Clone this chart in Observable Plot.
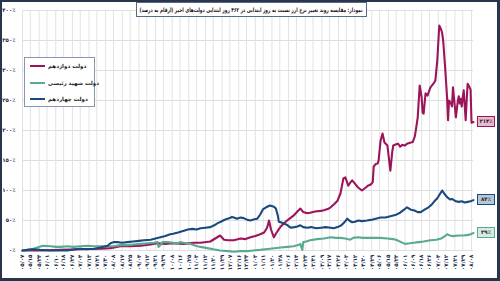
<!DOCTYPE html>
<html>
<head>
<meta charset="utf-8">
<script src="https://cdn.jsdelivr.net/npm/d3@7"></script>
<script src="https://cdn.jsdelivr.net/npm/@observablehq/plot@0.6"></script>
<style>
  html, body { margin: 0; padding: 0; background: #fff; }
  #wrap { position: relative; width: 500px; height: 281px; overflow: hidden; font-family: "DejaVu Sans", sans-serif; background: #fff; }
  #wrap svg { position: absolute; left: 0; top: 0; }
  #edge { position: absolute; left: 0; top: 0; width: 500px; height: 281px; box-sizing: border-box;
          border: 2px solid #27364c; border-bottom-width: 3px; border-right-width: 3px; pointer-events: none; }
  #title { position: absolute; left: 136px; top: 2px; width: 231px; height: 15px; box-sizing: border-box;
           border: 1px solid #566a86; background: #fff; overflow: hidden; }
  #title span { position: absolute; right: 3px; top: 0; font-size: 6px; font-weight: bold; line-height: 13px;
                direction: rtl; white-space: nowrap; color: #111; transform-origin: right center; }
  #legend { position: absolute; left: 24px; top: 57px; width: 71px; height: 50px; box-sizing: border-box;
            border: 1px solid #8797ad; background: #fff; }
  .item { position: absolute; left: 5px; height: 10px; width: 64px; }
  .item .sw { position: absolute; left: 0; top: 4px; width: 15px; height: 2px; }
  .item .tx { position: absolute; left: 18px; top: 0; font-size: 5.5px; font-weight: bold; line-height: 10px;
              direction: rtl; white-space: nowrap; color: #222; }
  .tag { position: absolute; left: 477px; width: 18px; height: 11px; box-sizing: border-box; border: 1px solid;
         font-size: 5.4px; font-weight: bold; line-height: 9px; text-align: center; color: #222; }
</style>
</head>
<body>
<div id="wrap"></div>
<script>
// Exchange-rate change versus day one, over the first 462 days of each government (percent)
const seriesNames = ["دولت دوازدهم", "دولت شهید رئیسی", "دولت چهاردهم"];
const seriesColors = ["#9c155b", "#5aa991", "#184b7c"];
const tagFills = ["#e7b9cf", "#d3ebe3", "#b7c7d9"];

// [day, percent]
const dolat12 = [[0,0],[18,0],[39,1],[59,2],[80,3],[90,4],[100,7],[110,7],[121,8],[131,10],[138,12],[146,11],[154,12],[165,11],[175,13],[182,13],[192,15],[197,20],[202,25],[206,18],[210,17],[216,17],[223,20],[228,19],[233,22],[238,24],[243,27],[247,30],[250,38],[252,50],[254,35],[257,22],[259,28],[261,33],[264,40],[267,45],[272,52],[277,58],[281,65],[284,70],[287,64],[291,62],[294,63],[299,65],[305,66],[308,67],[312,69],[315,72],[319,78],[322,83],[325,95],[328,120],[330,122],[333,108],[335,113],[337,117],[340,111],[343,105],[347,100],[351,105],[353,108],[356,110],[358,114],[359,140],[361,144],[363,145],[364,150],[366,183],[368,195],[370,180],[373,175],[376,133],[378,165],[379,175],[382,177],[384,178],[386,173],[388,176],[391,175],[393,178],[397,180],[399,181],[401,190],[402,200],[404,222],[406,275],[408,255],[409,230],[410,228],[411,245],[412,262],[414,258],[417,272],[420,278],[422,283],[424,317],[426,375],[428,368],[429,362],[430,350],[432,305],[434,255],[435,217],[436,250],[438,245],[439,240],[440,272],[443,222],[445,250],[446,257],[447,245],[448,253],[449,240],[450,255],[451,267],[453,217],[454,250],[455,278],[457,272],[458,268],[459,213],[461,214]];

const raisi = [[0,0],[5,1],[11,3],[15,5],[21,8],[29,7],[34,6],[39,6],[46,7],[52,6],[59,7],[66,8],[73,7],[80,7],[87,7],[93,7],[100,9],[107,9],[113,10],[121,11],[128,12],[134,13],[138,14],[139,6],[141,9],[143,14],[148,14],[154,13],[158,11],[161,14],[167,12],[172,11],[177,8],[182,6],[189,4],[195,2],[202,0],[210,-1],[216,-2],[223,-1],[230,-1],[236,0],[243,1],[253,3],[264,5],[271,6],[277,7],[282,9],[284,11],[286,1],[287,14],[290,15],[294,17],[301,19],[308,20],[315,22],[320,21],[325,21],[330,20],[335,18],[338,21],[343,22],[348,21],[353,21],[359,21],[366,21],[373,20],[379,19],[383,17],[387,14],[391,11],[396,12],[400,13],[405,14],[410,15],[417,17],[423,18],[428,20],[431,23],[434,27],[437,25],[440,24],[446,25],[451,25],[456,26],[461,29]];

const dolat14 = [[0,0],[5,1],[11,2],[18,1],[29,0],[39,0],[46,0],[54,2],[59,3],[66,2],[73,3],[80,5],[87,8],[90,12],[93,14],[97,14],[102,13],[107,14],[113,15],[119,16],[124,17],[131,18],[136,20],[141,22],[146,24],[151,27],[154,28],[159,30],[165,33],[169,35],[174,36],[178,35],[182,37],[187,38],[192,39],[196,42],[200,46],[203,48],[205,50],[208,52],[212,54],[214,56],[216,55],[219,53],[223,55],[226,54],[230,51],[233,50],[237,52],[240,53],[243,60],[246,69],[249,72],[253,75],[257,73],[259,70],[261,58],[262,48],[264,47],[267,45],[270,43],[274,38],[278,39],[281,40],[284,42],[287,39],[291,38],[295,39],[300,37],[305,38],[310,39],[315,38],[318,37],[322,39],[326,42],[329,47],[332,53],[334,50],[337,47],[340,48],[343,50],[347,49],[352,50],[356,51],[361,53],[366,55],[371,55],[376,57],[381,59],[386,63],[390,68],[393,72],[397,68],[400,67],[404,64],[407,64],[411,68],[415,72],[418,76],[421,82],[424,87],[427,95],[429,100],[431,95],[434,89],[437,85],[439,86],[443,82],[446,81],[449,82],[452,80],[455,81],[458,82],[461,84]];

const allSeries = [dolat12, raisi, dolat14];

// Axis ticks: percent levels, and dated category labels along the day axis
const yTicks = [0, 50, 100, 150, 200, 250, 300, 350, 400];
const xTickDays = [0,8,17,25,34,42,51,59,68,76,85,93,102,110,119,127,136,144,153,161,170,178,187,195,204,212,221,229,238,246,255,263,272,280,289,297,306,314,323,331,340,348,357,365,374,382,391,399,408,416,425,433,442,450,459];
const xTickLabels = ["05/07","05/15","05/24","06/01","06/10","06/18","06/27","07/04","07/13","07/21","07/30","08/08","08/17","08/25","09/04","09/12","09/21","09/29","10/08","10/16","10/25","11/03","11/12","11/20","11/29","12/07","12/16","12/24","01/03","01/11","01/20","01/28","02/06","02/14","02/23","02/31","03/09","03/17","03/26","04/03","04/12","04/20","04/29","05/06","05/15","05/23","06/01","06/09","06/18","06/26","07/04","07/12","07/21","07/29","08/08"];

const titleText = "نمودار: مقایسه روند تغییر نرخ ارز نسبت به روز ابتدایی در ۴۶۲ روز ابتدایی دولت‌های اخیر (ارقام به درصد)";

const fa = s => String(s).replace(/\d/g, d => "۰۱۲۳۴۵۶۷۸۹"[d]);
const labelOf = new Map(xTickDays.map((d, i) => [d, xTickLabels[i]]));

const rows = allSeries.flatMap((s, k) => s.map(([day, v]) => ({day, v, name: seriesNames[k]})));

const chart = Plot.plot({
  width: 500,
  height: 281,
  marginLeft: 22,
  marginRight: 27,
  marginTop: 10,
  marginBottom: 31,
  style: {fontFamily: "DejaVu Sans", background: "transparent", overflow: "visible"},
  x: {domain: [0, 461]},
  y: {domain: [0, 400]},
  color: {domain: seriesNames, range: seriesColors},
  marks: [
    Plot.gridY(yTicks, {stroke: "#dedede", strokeOpacity: 1}),
    Plot.gridX(xTickDays, {stroke: "#e2e2e2", strokeOpacity: 1}),
    Plot.axisY(yTicks, {tickSize: 0, tickPadding: 7, label: null, fontSize: 5.4, fontWeight: "bold",
      fill: "#1a2b4a", tickFormat: d => fa(d) + "٪"}),
    Plot.axisX(xTickDays, {tickSize: 0, tickPadding: 4, tickRotate: -90, label: null, fontSize: 5.6,
      fontWeight: "bold", fill: "#1a2b4a", tickFormat: d => fa(labelOf.get(d))}),
    Plot.line(rows, {x: "day", y: "v", z: "name", stroke: "name", strokeWidth: 2.1, strokeLinejoin: "round"})
  ]
});

const wrap = document.getElementById("wrap");
wrap.appendChild(chart);

const title = document.createElement("div");
title.id = "title";
const tspan = document.createElement("span");
tspan.textContent = titleText;
title.appendChild(tspan);
wrap.appendChild(title);
// squeeze the heading so it sits inside its box
const fit = (231 - 8) / tspan.getBoundingClientRect().width;
if (fit < 1) tspan.style.transform = `scaleX(${fit})`;

const legend = document.createElement("div");
legend.id = "legend";
seriesNames.forEach((n, k) => {
  const it = document.createElement("div");
  it.className = "item";
  it.style.top = [3, 20, 36][k] + "px";
  it.innerHTML = `<div class="sw" style="background:${seriesColors[k]}"></div><div class="tx">${n}</div>`;
  legend.appendChild(it);
});
wrap.appendChild(legend);

// Closing value tags at the right end of each line
const y = chart.scale("y");
allSeries.forEach((s, k) => {
  const last = s[s.length - 1][1];
  const tag = document.createElement("div");
  tag.className = "tag";
  tag.style.top = (y.apply(last) - 5.5) + "px";
  tag.style.background = tagFills[k];
  tag.style.borderColor = seriesColors[k];
  tag.textContent = fa(last) + "٪";
  wrap.appendChild(tag);
});

const edge = document.createElement("div");
edge.id = "edge";
wrap.appendChild(edge);
</script>
</body>
</html>
